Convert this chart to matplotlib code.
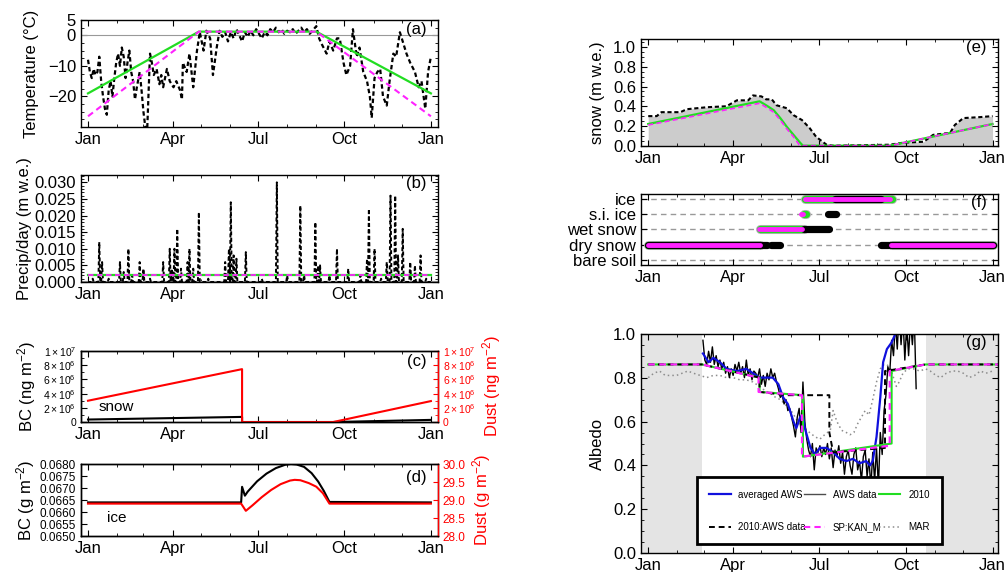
import numpy as np
import matplotlib
matplotlib.use('Agg')
import matplotlib.pyplot as plt
from matplotlib.ticker import FuncFormatter, FormatStrFormatter, MultipleLocator
from matplotlib.lines import Line2D

plt.rcParams['font.family'] = ['Liberation Sans', 'DejaVu Sans']
plt.rcParams['mathtext.fontset'] = 'custom'
plt.rcParams['mathtext.rm'] = 'Liberation Sans'
plt.rcParams['mathtext.it'] = 'Liberation Sans:italic'
plt.rcParams['axes.linewidth'] = 1.0

# ---------------- data (day of year) ----------------
month_major = [0, 90, 181, 273, 365]
month_labels = ['Jan', 'Apr', 'Jul', 'Oct', 'Jan']
month_minor = [31, 59, 120, 151, 212, 243, 304, 334]

# (a) temperature
temp_day = [0, 2, 4, 6, 8, 10, 12, 14, 16, 18, 20, 22, 24, 26, 28, 30, 32, 34, 36, 38,
            40, 42, 44, 46, 48, 50, 52, 55, 57, 59, 61, 63, 66, 68, 70, 73, 76, 78, 80, 84,
            87, 91, 94, 98, 100, 101, 105, 108, 112, 116, 119, 123, 126, 130, 133, 137, 140, 143, 146, 149,
            152, 155, 158, 161, 164, 167, 170, 173, 176, 179, 182, 185, 188, 191, 194, 197, 200, 203, 206, 209,
            212, 215, 218, 221, 224, 227, 230, 233, 236, 239, 243, 246, 249, 254, 257, 261, 265, 268, 272, 275,
            279, 282, 286, 289, 293, 297, 300, 302, 305, 308, 311, 314, 318, 321, 325, 328, 332, 336, 339, 343,
            348, 352, 355, 359, 362, 365]
temp_aws = [-8, -12, -14, -11, -13, -12, -7, -15, -20, -24, -26, -18, -15, -20, -14, -9, -6, -10, -4, -7,
            -14, -9, -5, -12, -15, -21, -17, -12, -18, -25, -30, -31, -6, -9, -13, -11, -16, -13, -17, -11,
            -15, -17, -15, -18, -21, -9, -12, -6, -17, -5, 1, -5, 1.5, -1, -13, -4, 1.5, -0.5, 1, -2,
            1, -1, 2, 0, -2, 1, -0.5, 1.5, 0, 2, 0.5, -1, 1, 0, 2, 1, 2.5, 1, 2, 0.5,
            1.5, 1, 2, 0.5, 1.5, 2.5, 1, 2, 0.5, 1.5, 3, -1, -3, -6, -2, -5, -1, -1, -9, -13,
            -10, 2, -7, -4, -12, -15, -20, -27, -14, -12, -11, -20, -23, -15, -6, -7, 1, -3, -6, -9,
            -12, -17, -15, -24, -12, -7]
temp_mod_day = [0, 118, 243, 365]
temp_2010 = [-19, 1.2, 1.2, -19]
temp_sp = [-26.5, 1.2, 1.2, -26.5]

# (b) precipitation spikes (other days ~0)
precip_day = [5, 12, 15, 22, 34, 38, 43, 47, 55, 59, 66, 80, 87, 89, 92, 95, 99, 106, 108, 112,
              118, 128, 146, 150, 152, 155, 158, 168, 185, 201, 212, 226, 230, 242, 245, 247, 257, 265, 277, 290,
              297, 299, 305, 312, 318, 322, 327, 330, 335, 343, 348, 354, 360]
precip_val = [0.001, 0.012, 0.006, 0.001, 0.006, 0.003, 0.010, 0.002, 0.006, 0.004,
              0.001, 0.006, 0.010, 0.004, 0.010, 0.016, 0.004, 0.006, 0.010, 0.004,
              0.021, 0.001, 0.006, 0.010, 0.024, 0.008, 0.007, 0.009, 0.001, 0.030,
              0.002, 0.023, 0.002, 0.018, 0.005, 0.005, 0.002, 0.010, 0.004, 0.002,
              0.007, 0.022, 0.010, 0.001, 0.006, 0.026, 0.026, 0.008, 0.016, 0.006,
              0.005, 0.008, 0.001]
precip_model = 0.002

# (c) impurities in snow
snowimp_day = [0, 164, 164, 261, 365]
bc_snow = [3.5e5, 7.2e5, 0, 0, 3.0e5]
dust_snow = [3.0e6, 7.45e6, 0, 0, 2.95e6]

# (d) impurities in ice
bc_ice_day = [0, 163, 164, 167, 170, 180, 190, 200, 210, 216, 222, 230, 238, 245, 251, 257, 365]
bc_ice = [0.0664, 0.0664, 0.06705, 0.06668, 0.06685, 0.06728, 0.06760, 0.06783, 0.06797, 0.06800,
          0.06798, 0.06788, 0.06762, 0.06727, 0.06688, 0.06642, 0.0664]
dust_ice_day = [0, 163, 168, 175, 185, 195, 205, 215, 220, 226, 235, 243, 250, 257, 365]
dust_ice = [28.9, 28.9, 28.70, 28.85, 29.08, 29.28, 29.44, 29.54, 29.56, 29.55, 29.47, 29.37, 29.19, 28.9, 28.9]

# (e) snow depth
snow_obs_day = [0, 9, 14, 34, 41, 62, 83, 94, 106, 111, 120, 125, 131, 136, 147, 154, 163, 171, 178, 189,
                196, 256, 270, 292, 302, 320, 325, 334, 352, 365]
snow_obs = [0.30, 0.30, 0.34, 0.34, 0.37, 0.39, 0.40, 0.46, 0.46, 0.51, 0.50, 0.47, 0.47, 0.41, 0.38, 0.31,
            0.26, 0.18, 0.09, 0.01, 0.0, 0.01, 0.03, 0.04, 0.11, 0.13, 0.21, 0.28, 0.29, 0.30]
snow_2010_day = [0, 118, 125, 133, 140, 147, 154, 161, 164, 256, 365]
snow_2010 = [0.22, 0.45, 0.41, 0.36, 0.28, 0.19, 0.11, 0.03, 0.0, 0.0, 0.22]
snow_sp_day = [0, 118, 125, 133, 140, 147, 154, 160, 162, 256, 365]
snow_sp = [0.21, 0.43, 0.39, 0.34, 0.26, 0.17, 0.09, 0.01, 0.0, 0.0, 0.22]

# (f) surface type: (start day, end day, class index)
surf_classes = ['bare soil', 'dry snow', 'wet snow', 's.i. ice', 'ice']
surf_2010 = [(0, 118, 1), (118, 165, 2), (165, 167, 3), (166, 258, 4), (258, 258, 2), (258, 365, 1)]
surf_aws = [(0, 118, 1), (119, 126, 1), (130, 140, 1), (165, 192, 2), (191, 199, 3),
            (198, 247, 4), (247, 256, 1), (256, 365, 1)]
surf_sp = [(0, 118, 1), (117, 163, 2), (162, 164, 3), (166, 256, 4), (256, 256, 2), (257, 365, 1)]

# (g) albedo
alb_2010_day = [0, 57, 118, 118, 164, 164, 258, 258, 294, 372]
alb_2010 = [0.86, 0.86, 0.80, 0.735, 0.72, 0.44, 0.50, 0.83, 0.86, 0.86]
alb_sp_day = [0, 57, 117, 117, 163, 163, 256, 256, 294, 372]
alb_sp = [0.86, 0.86, 0.80, 0.735, 0.72, 0.44, 0.49, 0.83, 0.86, 0.86]
alb_2010aws_day = [0, 57, 118, 118, 147, 192, 192, 196, 251, 251, 294, 372]
alb_2010aws = [0.86, 0.86, 0.80, 0.735, 0.72, 0.72, 0.55, 0.46, 0.48, 0.83, 0.86, 0.86]
alb_avg_day = [58, 64, 69, 76, 83, 94, 104, 111, 118, 125, 132, 138, 143, 148, 154, 157, 161, 164, 166, 172,
               177, 182, 189, 196, 203, 210, 217, 224, 231, 235, 238, 242, 246, 249, 253, 258, 262, 266, 272, 277]
alb_avg = [0.91, 0.87, 0.89, 0.87, 0.84, 0.83, 0.84, 0.82, 0.80, 0.80, 0.80, 0.77, 0.71, 0.68, 0.60, 0.57,
           0.62, 0.63, 0.57, 0.48, 0.45, 0.48, 0.48, 0.46, 0.43, 0.42, 0.43, 0.41, 0.42, 0.40, 0.42, 0.53,
           0.71, 0.87, 0.93, 0.96, 1.00, 1.04, 1.05, 1.00]
alb_aws_start = 58  # every second day from here
alb_aws = [0.97, 0.88, 0.86, 0.92, 0.87, 0.94, 0.86, 0.90, 0.85, 0.88,
           0.84, 0.87, 0.82, 0.85, 0.80, 0.84, 0.81, 0.86, 0.83, 0.87,
           0.82, 0.85, 0.80, 0.88, 0.81, 0.84, 0.79, 0.83, 0.82, 0.80,
           0.84, 0.77, 0.81, 0.76, 0.82, 0.79, 0.84, 0.80, 0.82, 0.78,
           0.75, 0.71, 0.72, 0.68, 0.70, 0.65, 0.66, 0.62, 0.58, 0.53,
           0.62, 0.66, 0.55, 0.78, 0.60, 0.52, 0.47, 0.44, 0.50, 0.38,
           0.48, 0.46, 0.49, 0.44, 0.48, 0.45, 0.50, 0.43, 0.48, 0.39,
           0.47, 0.44, 0.49, 0.41, 0.46, 0.36, 0.44, 0.47, 0.40, 0.36,
           0.45, 0.48, 0.38, 0.42, 0.33, 0.44, 0.47, 0.35, 0.43, 0.30,
           0.46, 0.33, 0.48, 0.30, 0.55, 0.45, 0.65, 0.72, 0.85, 0.82,
           0.97, 0.90, 1.05, 0.93, 1.10, 0.95, 1.08, 0.88, 1.04, 0.90,
           1.06, 0.95, 1.08, 0.75]
mar_day = [0, 6, 12, 18, 24, 30, 36, 42, 48, 55, 62, 69, 76, 83, 90, 97, 104, 111, 118, 124,
           129, 135, 140, 147, 153, 161, 166, 171, 177, 182, 187, 193, 196, 200, 205, 210, 214, 218, 222, 226,
           230, 234, 238, 242, 246, 250, 253, 257, 260, 263, 266, 270, 275, 281, 288, 294, 299, 305, 310, 316,
           322, 328, 334, 340, 346, 352, 358, 365]
mar = [0.80, 0.82, 0.83, 0.81, 0.81, 0.81, 0.82, 0.83, 0.82, 0.81, 0.80, 0.81, 0.81, 0.80, 0.80, 0.79, 0.79, 0.78, 0.76, 0.74,
       0.73, 0.71, 0.70, 0.67, 0.64, 0.58, 0.57, 0.55, 0.53, 0.52, 0.54, 0.56, 0.65, 0.60, 0.56, 0.55, 0.54, 0.55, 0.59, 0.62,
       0.65, 0.63, 0.70, 0.78, 0.84, 0.86, 0.86, 0.84, 0.80, 0.76, 0.78, 0.82, 0.84, 0.84, 0.83, 0.84, 0.83, 0.81, 0.80, 0.82,
       0.83, 0.83, 0.82, 0.80, 0.81, 0.83, 0.82, 0.83]
aws_gap_end = 57
aws_gap_start = 294

GREEN = '#22dd22'
MAGENTA = '#ff22ff'
FS = 12

fig = plt.figure(figsize=(10.07, 5.72), dpi=100)


def month_axis(ax, xlim):
    ax.set_xlim(*xlim)
    ax.set_xticks(month_major)
    ax.set_xticklabels(month_labels)
    ax.set_xticks(month_minor, minor=True)
    ax.tick_params(which='both', direction='in', top=True, right=True, labelsize=FS)
    ax.tick_params(which='major', length=4)
    ax.tick_params(which='minor', length=2.5)


def panel_label(ax, text, y):
    ax.text(0.968, y, text, transform=ax.transAxes, ha='right', va='center', fontsize=FS)


LEFT_X = (-7.5, 372.5)
RIGHT_X = (-7.7, 370.7)

# ---------------- (a) ----------------
ax = fig.add_axes([0.0804, 0.778, 0.3545, 0.187])
ax.axhline(0, color='0.6', lw=0.8)
ax.plot(temp_day, temp_aws, color='k', ls=(0, (2.0, 1.3)), lw=1.6)
ax.plot(temp_mod_day, temp_2010, color=GREEN, lw=1.6)
ax.plot(temp_mod_day, temp_sp, color=MAGENTA, ls=(0, (3, 2)), lw=1.5)
ax.set_ylim(-30, 5)
ax.set_yticks([5, 0, -10, -20])
ax.yaxis.set_minor_locator(MultipleLocator(2.5))
month_axis(ax, LEFT_X)
ax.set_ylabel('Temperature (°C)', fontsize=FS, labelpad=6)
panel_label(ax, '(a)', 0.907)

# ---------------- (b) ----------------
ax = fig.add_axes([0.0804, 0.507, 0.3545, 0.187])
precip = np.zeros(366)
precip[precip_day] = precip_val
ax.axhline(0.0003, color='0.6', lw=0.8)
ax.plot(np.arange(366), precip, color='k', ls=(0, (2.0, 1.3)), lw=1.4)
ax.plot([0, 365], [precip_model, precip_model], color=GREEN, lw=1.6)
ax.plot([0, 365], [precip_model, precip_model], color=MAGENTA, ls=(0, (3, 2)), lw=1.3)
ax.set_ylim(0, 0.0322)
ax.set_yticks(np.arange(0, 0.0301, 0.005))
ax.yaxis.set_major_formatter(FormatStrFormatter('%.3f'))
ax.yaxis.set_minor_locator(MultipleLocator(0.001))
month_axis(ax, LEFT_X)
ax.set_ylabel('Precip/day (m w.e.)', fontsize=FS, labelpad=2)
panel_label(ax, '(b)', 0.925)


def sci_fmt(v, pos):
    if v == 0:
        return '0'
    e = int(np.floor(np.log10(v) + 1e-9))
    m = v / 10 ** e
    return r'$%d\times10^{%d}$' % (round(m), e)


# ---------------- (c) ----------------
ax = fig.add_axes([0.0804, 0.2622, 0.3545, 0.1241])
ax.plot(snowimp_day, bc_snow, color='k', lw=1.5)
ax.set_ylim(0, 1e7)
ax.set_yticks(np.arange(0, 1.01e7, 2e6))
ax.yaxis.set_major_formatter(FuncFormatter(sci_fmt))
ax.yaxis.set_minor_locator(MultipleLocator(1e6))
month_axis(ax, LEFT_X)
ax.tick_params(axis='y', which='both', right=False, labelsize=7.5)
ax.set_ylabel('BC (ng m$^{-2}$)', fontsize=FS, labelpad=4)
ax.text(0.048, 0.21, 'snow', transform=ax.transAxes, fontsize=11, va='center')
panel_label(ax, '(c)', 0.85)
ax2 = ax.twinx()
ax2.plot(snowimp_day, dust_snow, color='red', lw=1.5)
ax2.set_ylim(0, 1e7)
ax2.set_yticks(np.arange(0, 1.01e7, 2e6))
ax2.yaxis.set_major_formatter(FuncFormatter(sci_fmt))
ax2.yaxis.set_minor_locator(MultipleLocator(1e6))
ax2.tick_params(axis='y', which='both', direction='in', colors='red', labelsize=7.5)
ax2.spines['right'].set_color('red')
ax2.set_ylabel('Dust (ng m$^{-2}$)', fontsize=FS, color='red', labelpad=3)

# ---------------- (d) ----------------
ax = fig.add_axes([0.0804, 0.0629, 0.3545, 0.1259])
ax.plot(bc_ice_day, bc_ice, color='k', lw=1.5)
ax.set_ylim(0.0650, 0.0680)
ax.set_yticks(np.arange(0.0650, 0.06801, 0.0005))
ax.yaxis.set_major_formatter(FormatStrFormatter('%.4f'))
month_axis(ax, LEFT_X)
ax.tick_params(axis='y', which='both', right=False, labelsize=8.5)
ax.set_ylabel('BC (g m$^{-2}$)', fontsize=FS, labelpad=2)
ax.text(0.073, 0.25, 'ice', transform=ax.transAxes, fontsize=11, va='center')
panel_label(ax, '(d)', 0.81)
ax2 = ax.twinx()
ax2.plot(dust_ice_day, dust_ice, color='red', lw=1.5)
ax2.set_ylim(28.0, 30.0)
ax2.set_yticks(np.arange(28.0, 30.01, 0.5))
ax2.yaxis.set_major_formatter(FormatStrFormatter('%.1f'))
ax2.tick_params(axis='y', which='both', direction='in', colors='red', labelsize=8.5)
ax2.spines['right'].set_color('red')
ax2.set_ylabel('Dust (g m$^{-2}$)', fontsize=FS, color='red', labelpad=3)

# ---------------- (e) ----------------
ax = fig.add_axes([0.6365, 0.7453, 0.3545, 0.187])
ax.fill_between(snow_obs_day, snow_obs, color='0.8', lw=0)
ax.plot(snow_obs_day, snow_obs, color='k', ls=(0, (2.0, 1.3)), lw=1.5)
ax.plot(snow_2010_day, snow_2010, color=GREEN, lw=1.6)
ax.plot(snow_sp_day, snow_sp, color=MAGENTA, ls=(0, (3, 2)), lw=1.2)
ax.set_ylim(0, 1.085)
ax.set_yticks(np.arange(0, 1.01, 0.2))
ax.yaxis.set_major_formatter(FormatStrFormatter('%.1f'))
ax.yaxis.set_minor_locator(MultipleLocator(0.05))
month_axis(ax, RIGHT_X)
ax.set_ylabel('snow (m w.e.)', fontsize=FS, labelpad=6)
panel_label(ax, '(e)', 0.92)

# ---------------- (f) ----------------
ax = fig.add_axes([0.6365, 0.5362, 0.3545, 0.1252])
for k in range(len(surf_classes)):
    ax.axhline(k, color='0.6', lw=1.0, ls=(0, (4, 3)), zorder=1)


def draw_surface(segs, color, lw, z):
    for s, e, c in segs:
        ax.plot([s, e], [c, c], color=color, lw=lw, solid_capstyle='round', zorder=z)


draw_surface(surf_2010, '0.7', 6.5, 2)
draw_surface(surf_2010, GREEN, 5.2, 3)
draw_surface(surf_aws, 'k', 5.2, 4)
draw_surface(surf_sp, MAGENTA, 3.5, 5)
ax.set_ylim(-0.35, 4.35)
ax.set_yticks(range(len(surf_classes)))
ax.set_yticklabels(surf_classes)
month_axis(ax, RIGHT_X)
panel_label(ax, '(f)', 0.87)

# ---------------- (g) ----------------
ax = fig.add_axes([0.6365, 0.0327, 0.3545, 0.3839])
ax.axvspan(-20, aws_gap_end, color='#e4e4e4', lw=0, zorder=0)
ax.axvspan(aws_gap_start, 400, color='#e4e4e4', lw=0, zorder=0)
aws_day = alb_aws_start + 2 * np.arange(len(alb_aws))
ax.plot(mar_day, mar, color='0.55', ls=(0, (1, 2)), lw=1.1)
ax.plot(aws_day, alb_aws, color='k', lw=1.0)
ax.plot(alb_avg_day, alb_avg, color='#1010dd', lw=1.6)
ax.plot(alb_2010_day, alb_2010, color=GREEN, lw=1.5)
ax.plot(alb_2010aws_day, alb_2010aws, color='k', ls=(0, (3, 2)), lw=1.4)
ax.plot(alb_sp_day, alb_sp, color=MAGENTA, ls=(0, (3, 2)), lw=1.6)
ax.set_ylim(0, 1.0)
ax.set_yticks(np.arange(0, 1.01, 0.2))
ax.yaxis.set_major_formatter(FormatStrFormatter('%.1f'))
ax.yaxis.set_minor_locator(MultipleLocator(0.05))
month_axis(ax, RIGHT_X)
ax.set_ylabel('Albedo', fontsize=FS, labelpad=6)
panel_label(ax, '(g)', 0.958)

handles = [Line2D([], [], color='#1010dd', lw=1.6),
           Line2D([], [], color='k', ls=(0, (3, 2)), lw=1.4),
           Line2D([], [], color='0.3', lw=1.0),
           Line2D([], [], color=MAGENTA, ls=(0, (3, 2)), lw=1.5),
           Line2D([], [], color=GREEN, lw=1.5),
           Line2D([], [], color='0.55', ls=(0, (1, 2)), lw=1.1)]
labels = ['averaged AWS', '2010:AWS data', 'AWS data', 'SP:KAN_M', '2010', 'MAR']
leg = ax.legend(handles, labels, ncol=3, loc='lower left', mode='expand',
                bbox_to_anchor=(0.157, 0.042, 0.686, 0.3), borderaxespad=0,
                fontsize=7, handlelength=2.2, handletextpad=0.8, columnspacing=1.0,
                labelspacing=2.3, borderpad=1.25, fancybox=False, framealpha=1)
leg.get_frame().set_edgecolor('k')
leg.get_frame().set_linewidth(2.0)

fig.savefig('out.png', dpi=100)
